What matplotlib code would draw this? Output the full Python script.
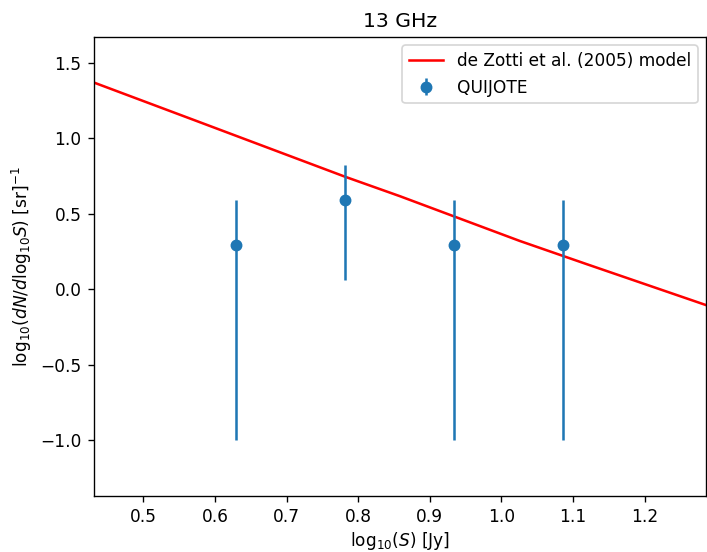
import matplotlib
matplotlib.use("Agg")
import matplotlib.pyplot as plt
import numpy as np

# de Zotti et al. (2005) model
model_logs = [0.43, 0.579, 0.7815, 0.858, 1.0255, 1.119, 1.286]
model_logn = [1.372, 1.107, 0.746, 0.617, 0.320, 0.166, -0.106]

# QUIJOTE counts
quijote_logs = [0.630, 0.782, 0.9335, 1.0864]
quijote_logn = [0.292, 0.590, 0.292, 0.292]
err_lo = [1.292, 0.530, 1.292, 1.292]
err_hi = [0.298, 0.232, 0.298, 0.298]

DPI = 122
fig = plt.figure(figsize=(707 / DPI, 552 / DPI), dpi=DPI)
ax = fig.add_axes([0.1324, 0.1014, 0.8662, 0.8316])

ax.plot(model_logs, model_logn, "r-", label="de Zotti et al. (2005) model")
ax.errorbar(quijote_logs, quijote_logn, yerr=[err_lo, err_hi], fmt="o",
            label="QUIJOTE")

ax.set_xlim(0.4307, 1.2855)
ax.set_ylim(-1.371, 1.672)
ax.set_title("13 GHz")
ax.set_xlabel(r"$\mathrm{log}_{10}(S)$ [Jy]", labelpad=2.5)
ax.set_ylabel(r"$\mathrm{log}_{10}(dN/d\mathrm{log}_{10}S)$ [sr]$^{-1}$")
ax.legend(loc="upper right")

fig.savefig("out.png", dpi=DPI)
